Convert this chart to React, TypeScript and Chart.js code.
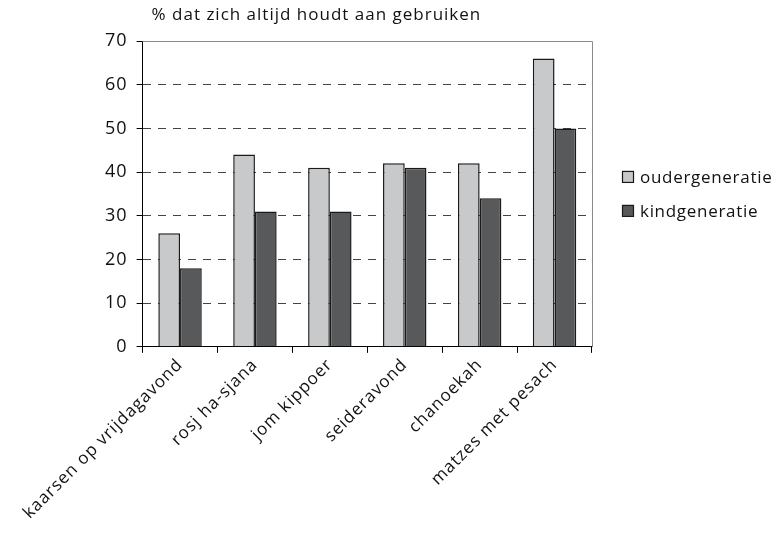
import React, { useEffect, useRef } from 'react';
import { Chart, registerables } from 'chart.js';

Chart.register(...registerables);

const categories = [
  'kaarsen op vrijdagavond',
  'rosj ha-sjana',
  'jom kippoer',
  'seideravond',
  'chanoekah',
  'matzes met pesach',
];
const ouderGeneratie = [26, 44, 41, 42, 42, 66];
const kindGeneratie = [18, 31, 31, 41, 34, 50];
const seriesNames = ['oudergeneratie', 'kindgeneratie'];
const titleText = '% dat zich altijd houdt aan gebruiken';
const yMin = 0;
const yMax = 70;
const yStep = 10;

const FONT = '"Open Sans", Lato, sans-serif';
const SPACING = '1px';

const setSpacing = (chart: any) => {
  if (chart.ctx) chart.ctx.letterSpacing = SPACING;
};

const framePlugin = {
  id: 'frame',
  beforeUpdate: setSpacing,
  beforeLayout: setSpacing,
  beforeDraw: setSpacing,
  beforeRender: setSpacing,
  beforeDatasetsDraw(chart: any) {
    const { ctx, chartArea } = chart;
    ctx.save();
    ctx.strokeStyle = '#8a8a8a';
    ctx.lineWidth = 1;
    ctx.beginPath();
    ctx.moveTo(chartArea.left, chartArea.top + 0.5);
    ctx.lineTo(chartArea.right + 0.5, chartArea.top + 0.5);
    ctx.lineTo(chartArea.right + 0.5, chartArea.bottom);
    ctx.stroke();
    ctx.restore();
  },
  afterDraw(chart: any) {
    const { ctx, chartArea } = chart;
    ctx.save();
    ctx.letterSpacing = SPACING;
    ctx.fillStyle = '#111';
    ctx.font = `17px ${FONT}`;
    ctx.textBaseline = 'middle';
    ctx.textAlign = 'left';
    ctx.fillText(titleText, chartArea.left + 9, 15);

    // legend
    const midY = (chartArea.top + chartArea.bottom) / 2;
    const boxX = chartArea.right + 30;
    const ds = chart.data.datasets;
    ctx.letterSpacing = '0.7px';
    ds.forEach((d: any, i: number) => {
      const y = midY - 17 + i * 34;
      ctx.fillStyle = d.backgroundColor;
      ctx.fillRect(boxX, y - 6, 12, 12);
      ctx.strokeStyle = '#1a1a1a';
      ctx.lineWidth = 1.2;
      ctx.strokeRect(boxX + 0.5, y - 5.5, 11, 11);
      ctx.fillStyle = '#111';
      ctx.fillText(d.label, boxX + 18, y + 1);
    });
    ctx.restore();
  },
};

export default function App() {
  const ref = useRef<HTMLCanvasElement | null>(null);
  useEffect(() => {
    if (!ref.current) return;
    const chart = new Chart(ref.current, {
      type: 'bar',
      data: {
        labels: categories,
        datasets: [
          {
            label: seriesNames[0],
            data: ouderGeneratie,
            backgroundColor: '#c8c9cb',
            borderColor: '#1a1a1a',
            borderWidth: 1.5,
          },
          {
            label: seriesNames[1],
            data: kindGeneratie,
            backgroundColor: '#58595b',
            borderColor: '#1a1a1a',
            borderWidth: 1.5,
          },
        ],
      },
      options: {
        animation: false,
        responsive: true,
        maintainAspectRatio: false,
        layout: { padding: { top: 41, left: 96, right: 183, bottom: 11 } },
        datasets: { bar: { categoryPercentage: 0.58, barPercentage: 1 } },
        plugins: {
          title: { display: false },
          tooltip: { enabled: false },
          legend: { display: false },
        },
        scales: {
          x: {
            grid: {
              offset: true,
              drawOnChartArea: false,
              drawTicks: true,
              tickLength: 6,
              tickColor: '#000',
            },
            border: { color: '#000', width: 1 },
            ticks: {
              minRotation: 45,
              maxRotation: 45,
              color: '#111',
              font: { family: FONT, size: 17 },
              padding: 2,
            },
          },
          y: {
            min: yMin,
            max: yMax,
            grid: {
              color: (c: any) =>
                c.tick && (c.tick.value === yMin || c.tick.value === yMax) ? 'rgba(0,0,0,0)' : '#444',
              tickColor: '#000',
              tickLength: 6,
              tickBorderDash: [],
              lineWidth: 1,
            },
            border: { color: '#000', width: 1, dash: [8, 7] },
            ticks: {
              stepSize: yStep,
              color: '#111',
              font: { family: FONT, size: 18 },
              padding: 9,
            },
          },
        },
      },
      plugins: [framePlugin],
    });
    return () => chart.destroy();
  }, []);
  return (
    <div style={{ position: 'fixed', left: 0, top: 0, width: 775, height: 536, background: '#fff' }}>
      <canvas ref={ref} />
    </div>
  );
}
